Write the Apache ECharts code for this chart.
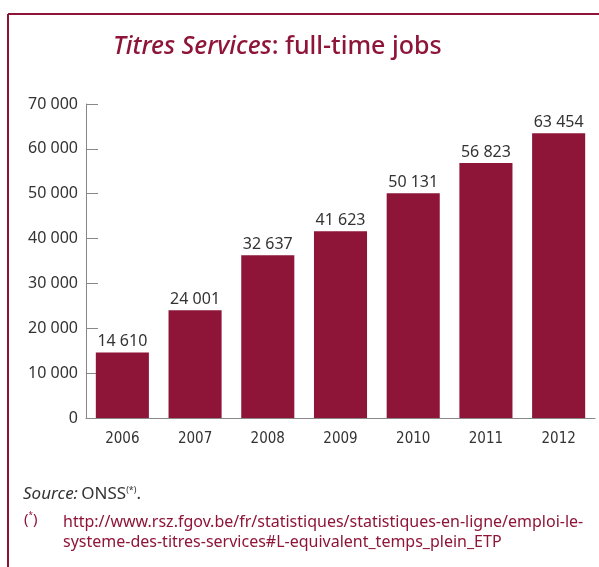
<!DOCTYPE html>
<html lang="en">
<head>
    <meta charset="UTF-8">
    <title>Titres Services</title>
    <style>
        html, body { margin: 0; padding: 0; background: #fff; }
        #main { width: 599px; height: 567px; }
    </style>
</head>
<body>
<div id="main"></div>
<script src="https://cdn.jsdelivr.net/npm/echarts@6/dist/echarts.min.js"></script>
<script>
    // data
    const years = ['2006', '2007', '2008', '2009', '2010', '2011', '2012'];
    // bar heights as drawn (2008 bar is drawn taller than its label says)
    const barValues = [14610, 24001, 36270, 41623, 50131, 56823, 63454];
    const barLabels = ['14 610', '24 001', '32 637', '41 623', '50 131', '56 823', '63 454'];
    const yTicks = [0, 10000, 20000, 30000, 40000, 50000, 60000, 70000];

    const red = '#8e1538';
    const ink = '#333333';
    const narrow = "'Liberation Sans Narrow', 'DejaVu Sans Condensed', 'Noto Sans', sans-serif";

    const myChart = echarts.init(document.getElementById('main'));

    function fmt(v) {
        // thousands separated with a space
        return String(v).replace(/\B(?=(\d{3})+(?!\d))/g, ' ');
    }

    myChart.setOption({
        animation: false,
        title: {
            text: '{i|Titres Services}{n|: full-time jobs}',
            left: 108,
            top: 29,
            textStyle: {
                fontWeight: 500,
                rich: {
                    i: { fontStyle: 'italic', fontWeight: 500, fontSize: 25, color: red, fontFamily: 'Noto Sans' },
                    n: { fontWeight: 500, fontSize: 25, color: red, fontFamily: 'Noto Sans' }
                }
            }
        },
        grid: { left: 86, right: 4, top: 104, bottom: 149 },
        xAxis: {
            type: 'category',
            data: years,
            axisLine: { lineStyle: { color: '#888', width: 1 } },
            axisTick: { inside: true, length: 7, lineStyle: { color: '#888' } },
            axisLabel: { color: ink, fontSize: 15, fontFamily: narrow, margin: 14 }
        },
        yAxis: {
            type: 'value',
            min: yTicks[0],
            max: yTicks[yTicks.length - 1],
            interval: 10000,
            axisLine: { show: true, lineStyle: { color: '#888', width: 1 } },
            axisTick: { show: true, inside: true, length: 12, lineStyle: { color: '#888' } },
            splitLine: { show: false },
            axisLabel: {
                color: ink, fontSize: 16, fontFamily: 'Noto Sans', margin: 8,
                formatter: fmt
            }
        },
        series: [{
            type: 'bar',
            data: barValues,
            barWidth: '73%',
            itemStyle: { color: red },
            label: {
                show: true,
                position: 'top',
                distance: 3,
                color: ink,
                fontSize: 16,
                fontFamily: 'Noto Sans',
                formatter: function (p) { return barLabels[p.dataIndex]; }
            }
        }],
        graphic: [
            // frame: top and left edges
            { type: 'line', shape: { x1: 8, y1: 14, x2: 599, y2: 14 }, style: { stroke: red, lineWidth: 2 } },
            { type: 'line', shape: { x1: 8, y1: 14, x2: 8, y2: 567 }, style: { stroke: red, lineWidth: 2 } },
            {
                type: 'text', left: 23, top: 486,
                style: {
                    text: '{i|Source:} {n|ONSS}{s|(*)}{n|.}',
                    rich: {
                        i: { fontStyle: 'italic', fontSize: 17, fill: ink, fontFamily: 'Noto Sans' },
                        n: { fontSize: 17, fill: ink, fontFamily: 'Noto Sans' },
                        s: { fontSize: 9, fill: ink, fontFamily: 'Noto Sans', verticalAlign: 'top', padding: [0, 0, 8, 0] }
                    }
                }
            },
            {
                type: 'text', left: 24, top: 512,
                style: {
                    text: '{p|(}{s|*}{p|)}',
                    rich: {
                        p: { fontSize: 15, fill: red, fontFamily: 'Noto Sans' },
                        s: { fontSize: 8, fill: red, fontFamily: 'Noto Sans', verticalAlign: 'top', padding: [0, 0, 8, 0] }
                    }
                }
            },
            {
                type: 'text', left: 63, top: 512,
                style: {
                    text: 'http://www.rsz.fgov.be/fr/statistiques/statistiques-en-ligne/emploi-le-\nsysteme-des-titres-services#L-equivalent_temps_plein_ETP',
                    fontSize: 16, lineHeight: 20, fill: red, fontFamily: 'Noto Sans'
                }
            }
        ]
    });
</script>
</body>
</html>
